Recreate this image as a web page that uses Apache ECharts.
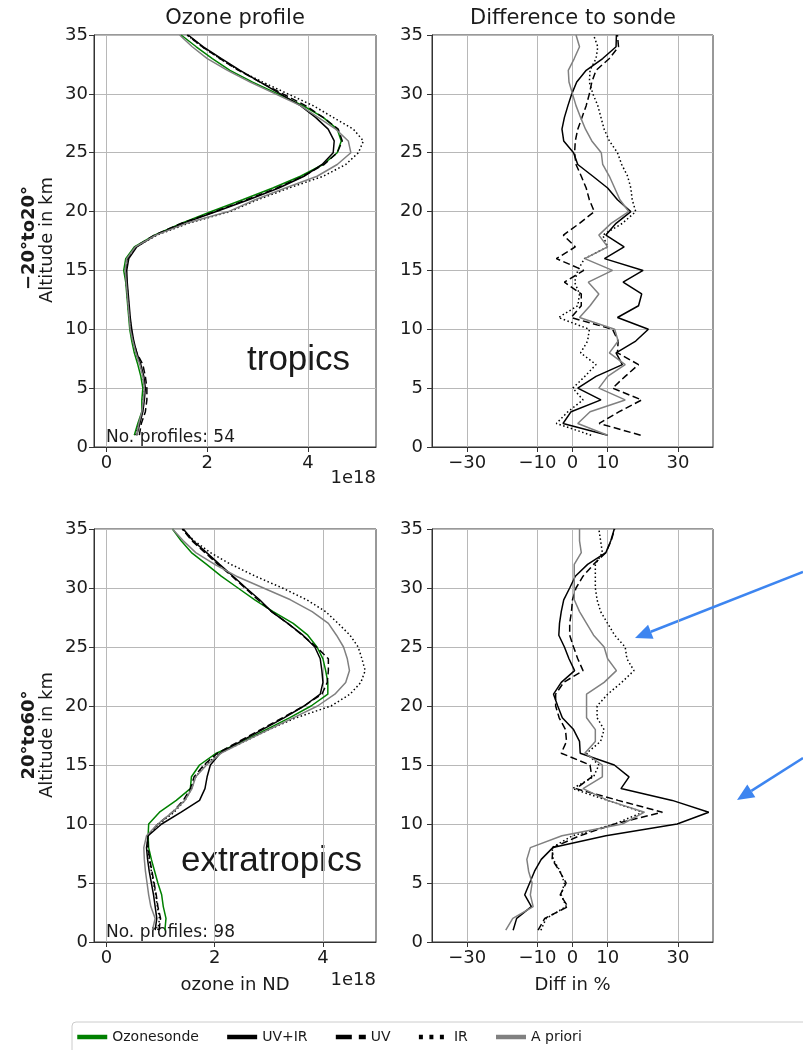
<!DOCTYPE html>
<html>
<head>
<meta charset="utf-8">
<script src="https://cdn.jsdelivr.net/npm/echarts@6/dist/echarts.min.js"></script>
<style>
  html, body { margin: 0; padding: 0; background: #fff; }
  #chart { width: 803px; height: 1050px; }
</style>
</head>
<body>
<div id="chart"></div>
<script>
// altitude levels (km)
const altitude = [1,2,3,4,5,6,7,8,9,10,11,12,13,14,15,16,17,18,19,20,21,22,23,24,25,26,27,28,29,30,31,32,33,34,35];

// tropics, ozone profile (1e18 ND)
const tropSonde = [0.55,0.62,0.70,0.70,0.72,0.68,0.62,0.55,0.50,0.46,0.44,0.42,0.40,0.38,0.34,0.38,0.55,0.95,1.48,2.08,2.70,3.30,3.85,4.30,4.58,4.66,4.58,4.30,3.90,3.40,2.90,2.45,2.10,1.78,1.48];
const tropUvIr  = [0.60,0.66,0.72,0.75,0.77,0.74,0.68,0.60,0.54,0.50,0.47,0.45,0.43,0.41,0.40,0.44,0.60,0.97,1.52,2.18,2.82,3.42,3.92,4.28,4.50,4.52,4.40,4.15,3.85,3.45,3.05,2.65,2.28,1.92,1.62];
const tropUv    = [0.65,0.69,0.77,0.80,0.80,0.77,0.72,0.60,0.53,0.49,0.46,0.44,0.42,0.40,0.38,0.42,0.57,0.95,1.48,2.15,2.78,3.38,3.90,4.32,4.58,4.68,4.60,4.30,3.95,3.50,3.05,2.62,2.25,1.90,1.60];
const tropIr    = [0.58,0.64,0.71,0.73,0.75,0.72,0.66,0.58,0.52,0.48,0.45,0.43,0.41,0.39,0.37,0.41,0.58,1.00,1.62,2.45,3.00,3.62,4.30,4.75,5.00,5.10,4.90,4.50,4.10,3.60,3.10,2.62,2.25,1.90,1.60];
const tropApr   = [0.60,0.64,0.70,0.73,0.75,0.72,0.66,0.58,0.52,0.47,0.45,0.43,0.41,0.39,0.37,0.40,0.57,0.98,1.58,2.42,2.95,3.55,4.18,4.58,4.85,4.80,4.55,4.20,3.85,3.35,2.85,2.40,2.00,1.70,1.45];

// tropics, difference to sonde (%)
const tropDiffUvIr = [10,-2.7,-0.4,8.1,1.5,6.7,14.2,12.4,18,21.6,12.8,18.8,19.7,14.4,20.1,9.1,14.7,9.5,12.4,16.6,12.8,10,5.8,1.5,0.3,-2.5,-3,-2.3,-1.3,-0.2,1.2,3.9,8.6,12.4,12.5];
const tropDiffUv   = [19.4,7.6,13.3,19.7,11.4,15,18.8,12.8,13,11.4,-0.4,2.5,2.5,-2.3,3.2,-4.6,0.8,-2.6,2,6.2,4.8,3.9,2.5,1,0.6,0.8,1.5,2.7,3.9,4.8,5.5,6.7,10.5,13.1,12.8];
const tropDiffIr   = [5.3,-4.6,-1.3,3,0.1,3.5,6.7,2.3,4.3,4.8,-4,1.5,2,0.6,1.5,3.4,10,8.6,14.2,18,17,16.6,15.7,14,12.8,10.5,9,8.1,7.2,5.8,4.8,5,6.7,7.2,6];
const tropDiffApr  = [10,1.5,5,15,7.5,10,15,10.5,13,12,2,5,7.5,4.5,11.4,3.5,10,7.5,11,16,13.5,12,10.5,8.6,8.2,5.5,3.7,2.3,1,0,-1,-1.2,0.5,2,1];

// extratropics, ozone profile (1e18 ND)
const extSonde = [1.08,1.10,1.05,1.02,0.95,0.89,0.83,0.78,0.77,0.78,0.98,1.29,1.55,1.57,1.72,2.03,2.52,2.95,3.38,3.78,4.09,4.09,4.05,4.00,3.89,3.72,3.45,3.08,2.74,2.43,2.12,1.85,1.57,1.38,1.22];
const extUvIr  = [0.90,0.93,0.90,0.87,0.83,0.79,0.76,0.74,0.77,1.02,1.38,1.72,1.82,1.86,1.92,2.10,2.48,2.88,3.28,3.65,3.95,4.00,3.98,3.95,3.85,3.63,3.35,3.05,2.83,2.58,2.34,2.09,1.85,1.60,1.42];
const extUv    = [0.97,1.00,0.95,0.92,0.88,0.84,0.80,0.77,0.76,0.95,1.22,1.42,1.55,1.62,1.80,2.05,2.45,2.85,3.25,3.65,3.98,4.08,4.10,4.10,3.88,3.62,3.35,3.05,2.80,2.56,2.32,2.06,1.82,1.58,1.40];
const extIr    = [0.95,0.98,0.94,0.91,0.87,0.83,0.79,0.76,0.76,0.97,1.25,1.45,1.57,1.65,1.82,2.10,2.55,3.00,3.50,4.15,4.50,4.70,4.78,4.72,4.65,4.50,4.28,4.05,3.70,3.25,2.75,2.30,1.92,1.62,1.40];
const extApr   = [0.85,0.90,0.82,0.78,0.75,0.72,0.70,0.69,0.74,0.95,1.22,1.45,1.58,1.65,1.85,2.12,2.55,3.00,3.45,3.90,4.22,4.42,4.49,4.45,4.38,4.25,4.10,3.80,3.40,2.90,2.40,2.00,1.65,1.42,1.22];

// extratropics, difference to sonde (%)
const extDiffUvIr = [-16.9,-15.9,-11.7,-13.6,-12.2,-10.8,-8.9,-5.6,9.5,29.8,38.8,28.4,13.8,16.1,11.9,2.2,2,0.3,-2.9,-4.2,-5.4,-3.2,0.6,-1,-2.3,-3.9,-3.7,-3.2,-2.5,-0.8,0.8,4.3,9.5,10.9,11.9];
const extDiffUv   = [-9.8,-7.9,-1.3,-3.5,-1.8,-3.7,-5.8,-5.6,2,12,25.6,13,1,5.5,5,-3.2,-1.7,-2,-3.8,-4.8,-4.8,-2.5,3,1.5,0.3,-0.8,-0.8,-0.3,0,1,3,6,9.5,11,12];
const extDiffIr   = [-9,-7.5,-1.8,-3.2,-2.3,-3.5,-5.5,-5.8,0,12,20,10,0,6,7.5,4,8,9,7,7,10,14,17.5,15.5,15,12,10,8,7,6.5,6.5,6.5,8.5,8,7.5];
const extDiffApr  = [-19,-17,-11.2,-12,-11.5,-12.5,-13,-12,-3,14.2,20.5,10,3,8.5,8.5,3.5,6.5,6.5,4,4,4,9,12.5,10,9,6,4,2,0.5,0.5,0.5,0.5,2.5,2,2];

// tick labels
const profileTicks = [0, 2, 4];
const diffTicks = [-30, -10, 0, 10, 30];

const FONT = 'DejaVu Sans';
const TXT = '#1a1a1a';

const styles = {
  'Ozonesonde': { color: '#008000', type: 'solid', legendType: 'solid' },
  'UV+IR': { color: '#000000', type: 'solid', legendType: 'solid' },
  'UV': { color: '#000000', type: [7, 3.5], legendType: [16, 7] },
  'IR': { color: '#000000', type: [1.5, 2.5], legendType: [4, 6.5] },
  'A priori': { color: '#808080', type: 'solid', legendType: 'solid' }
};

function line(name, values, idx) {
  const s = styles[name];
  return {
    type: 'line',
    name: name,
    xAxisIndex: idx,
    yAxisIndex: idx,
    data: values.map((v, i) => [v, altitude[i]]),
    symbol: 'none',
    showSymbol: false,
    color: s.color,
    lineStyle: { color: s.color, width: 1.5, type: s.type },
    animation: false
  };
}

const gridBox = [
  { left: 94, top: 35, width: 282, height: 412 },
  { left: 432, top: 35, width: 281, height: 412 },
  { left: 94, top: 529, width: 282, height: 413 },
  { left: 432, top: 529, width: 281, height: 413 }
];

function xAxis(idx, min, max, ticks, name) {
  return {
    type: 'value', gridIndex: idx, min: min, max: max,
    name: name || '', nameLocation: 'middle', nameGap: 34,
    nameTextStyle: { fontFamily: FONT, fontSize: 18, color: TXT },
    axisLine: { show: true, onZero: false, lineStyle: { color: '#333', width: 1 } },
    axisTick: { show: true, length: 5, customValues: ticks, lineStyle: { color: '#333' } },
    axisLabel: { customValues: ticks, fontFamily: FONT, fontSize: 18, color: TXT, margin: 7,
      formatter: v => (v < 0 ? '\u2212' + Math.abs(v) : String(v)) },
    splitLine: { show: true, lineStyle: { color: '#b8b8b8', width: 1 } }
  };
}

function yAxis(idx, margin) {
  return {
    type: 'value', gridIndex: idx, min: 0, max: 35, interval: 5,
    axisLine: { show: true, onZero: false, lineStyle: { color: '#333', width: 1 } },
    axisTick: { show: true, length: 5, lineStyle: { color: '#333' } },
    axisLabel: { fontFamily: FONT, fontSize: 18, color: TXT, margin: margin },
    splitLine: { show: true, lineStyle: { color: '#b8b8b8', width: 1 } }
  };
}

function arrow(x1, y1, x2, y2) {
  const dx = x2 - x1, dy = y2 - y1;
  const len = Math.sqrt(dx * dx + dy * dy);
  const ux = dx / len, uy = dy / len;
  const bx = x2 - ux * 17, by = y2 - uy * 17;
  const nx = -uy * 7.5, ny = ux * 7.5;
  return [
    { type: 'line', shape: { x1: x1, y1: y1, x2: bx, y2: by }, style: { stroke: '#3d85f0', lineWidth: 2.5 } },
    { type: 'polygon', shape: { points: [[x2, y2], [bx + nx, by + ny], [bx - nx, by - ny]] }, style: { fill: '#3d85f0' } }
  ];
}

function text(str, x, y, font, align, valign, rot) {
  return {
    type: 'text', x: x, y: y, rotation: rot || 0,
    style: { text: str, font: font, fill: TXT, textAlign: align, textVerticalAlign: valign }
  };
}

const names = ['Ozonesonde', 'UV+IR', 'UV', 'IR', 'A priori'];

const option = {
  backgroundColor: '#fff',
  animation: false,
  grid: gridBox.map(g => Object.assign({ show: true, borderColor: '#333', borderWidth: 1, backgroundColor: 'transparent' }, g)),
  xAxis: [
    xAxis(0, -0.25, 5.35, profileTicks),
    xAxis(1, -40, 40, diffTicks),
    xAxis(2, -0.23, 4.98, profileTicks, 'ozone in ND'),
    xAxis(3, -40, 40, diffTicks, 'Diff in %')
  ],
  yAxis: [yAxis(0, 6), yAxis(1, 9), yAxis(2, 6), yAxis(3, 9)],
  legend: {
    orient: 'horizontal', left: 70, top: 1024, padding: 5,
    itemWidth: 30, itemHeight: 20, itemGap: 26,
    textStyle: { fontFamily: FONT, fontSize: 14, color: TXT },
    data: names.map(n => ({
      name: n,
      itemStyle: { opacity: 0 },
      lineStyle: { width: 4.5, type: styles[n].legendType, color: styles[n].color }
    }))
  },
  series: [
    line('Ozonesonde', tropSonde, 0),
    line('UV+IR', tropUvIr, 0),
    line('UV', tropUv, 0),
    line('IR', tropIr, 0),
    line('A priori', tropApr, 0),
    line('UV+IR', tropDiffUvIr, 1),
    line('UV', tropDiffUv, 1),
    line('IR', tropDiffIr, 1),
    line('A priori', tropDiffApr, 1),
    line('Ozonesonde', extSonde, 2),
    line('UV+IR', extUvIr, 2),
    line('UV', extUv, 2),
    line('IR', extIr, 2),
    line('A priori', extApr, 2),
    line('UV+IR', extDiffUvIr, 3),
    line('UV', extDiffUv, 3),
    line('IR', extDiffIr, 3),
    line('A priori', extDiffApr, 3)
  ],
  graphic: [
    text('Ozone profile', 235, 19, '21px "DejaVu Sans"', 'center', 'middle'),
    text('Difference to sonde', 573, 19, '21px "DejaVu Sans"', 'center', 'middle'),
    text('\u221220°to20°', 29, 238, 'bold 18px "DejaVu Sans"', 'center', 'middle', Math.PI / 2),
    text('Altitude in km', 47, 240, '18px "DejaVu Sans"', 'center', 'middle', Math.PI / 2),
    text('20°to60°', 29, 735, 'bold 18px "DejaVu Sans"', 'center', 'middle', Math.PI / 2),
    text('Altitude in km', 47, 735, '18px "DejaVu Sans"', 'center', 'middle', Math.PI / 2),
    text('1e18', 376, 478, '18px "DejaVu Sans"', 'right', 'middle'),
    text('1e18', 376, 980, '18px "DejaVu Sans"', 'right', 'middle'),
    text('No. profiles: 54', 106, 438, '17px "DejaVu Sans"', 'left', 'middle'),
    text('No. profiles: 98', 106, 933, '17px "DejaVu Sans"', 'left', 'middle'),
    text('tropics', 247, 378, '35px "Liberation Sans"', 'left', 'bottom'),
    text('extratropics', 181, 879, '35px "Liberation Sans"', 'left', 'bottom'),
    { type: 'rect', shape: { x: 72, y: 1022, width: 760, height: 40, r: 4 }, style: { fill: 'none', stroke: '#cccccc', lineWidth: 1 }, z: -1 }
  ].concat(arrow(803, 572, 635, 638), arrow(803, 758, 737, 800))
};

const chart = echarts.init(document.getElementById('chart'));
chart.setOption(option);
</script>
</body>
</html>
